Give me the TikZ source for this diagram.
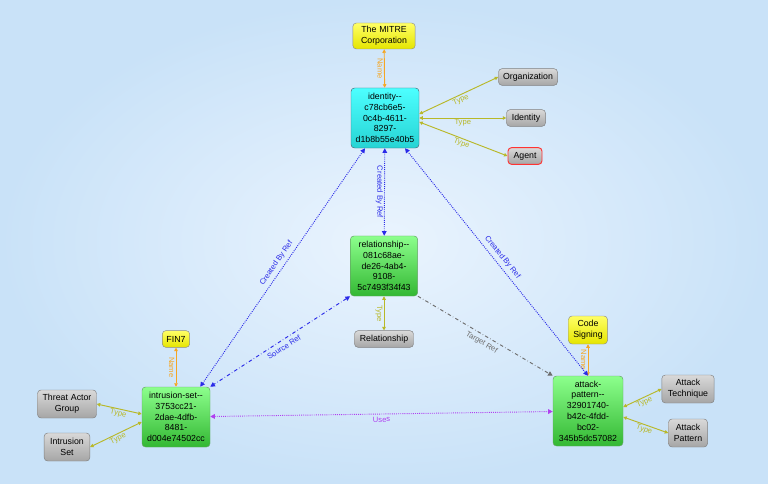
\documentclass[tikz,border=0pt]{standalone}
\usepackage{fontspec}
\setmainfont{Liberation Sans}
\usetikzlibrary{arrows.meta,positioning,shapes.geometric}
\definecolor{bgin}{HTML}{EAF4FE}
\definecolor{bgout}{HTML}{C9E2F8}
\definecolor{typecol}{HTML}{B8B828}
\definecolor{namecol}{HTML}{F5A623}
\definecolor{refcol}{HTML}{2A2AE8}
\definecolor{usecol}{HTML}{B040F0}
\definecolor{tgtcol}{HTML}{6E6E6E}
\tikzset{
  obj/.style={draw=black!45,rounded corners=3pt,align=center,inner sep=1pt,font=\fontsize{7.5}{9.2}\selectfont,text width=#1},
  sdo/.style={obj=1.95cm,minimum width=2.04cm,minimum height=1.8cm,top color=green!45!white,bottom color=green!65!black!80,draw=green!40!black!60},
  ident/.style={obj=1.95cm,minimum width=2.04cm,minimum height=1.8cm,top color=cyan!70,bottom color=cyan!80!black!85,draw=cyan!40!black},
  kind/.style={obj=1.6cm,minimum height=0.5cm,top color=black!15,bottom color=black!35,draw=black!50},
  val/.style={obj=1.6cm,minimum height=0.5cm,top color=yellow!60,bottom color=yellow!90!black,draw=black!45},
  typeedge/.style={draw=typecol,thick,{Triangle[length=3pt,width=3pt]}-{Triangle[length=3pt,width=3pt]}},
  nameedge/.style={draw=namecol,thick,{Triangle[length=3pt,width=3pt]}-{Triangle[length=3pt,width=3pt]}},
  lbl/.style={font=\fontsize{6.5}{7}\selectfont,sloped,inner sep=1pt},
  vlbl/.style={font=\fontsize{6.5}{7}\selectfont,rotate=-90,anchor=north,inner sep=1pt},
}
\begin{document}
\begin{tikzpicture}[x=0.03cm,y=-0.03cm]

\shade[inner color=bgin,outer color=bgout] (0,0) rectangle (768,483);
\useasboundingbox (0,0) rectangle (768,483);

% objects
\node (identity) [ident] at (385,118) {identity-{}-\\c78cb6e5-\\0c4b-4611-\\8297-\\d1b8b55e40b5};
\node (rel) [sdo,minimum width=1.98cm] at (384,266) {relationship-{}-\\081c68ae-\\de26-4ab4-\\9108-\\5c7493f34f43};
\node (intrusion) [sdo] at (176,417) {intrusion-set-{}-\\3753cc21-\\2dae-4dfb-\\8481-\\d004e74502cc};
\node (attack) [sdo,minimum width=2.1cm,minimum height=2.1cm] at (588,411) {attack-\\pattern-{}-\\32901740-\\b42c-4fdd-\\bc02-\\345b5dc57082};

% values and types
\node (mitre) [val,text width=1.8cm,minimum width=1.86cm,minimum height=0.78cm] at (384,36) {The MITRE\\Corporation};
\node (org) [kind,text width=1.7cm,minimum width=1.74cm] at (528,77) {Organization};
\node (identkind) [kind,text width=1.1cm,minimum width=1.14cm] at (526,118) {Identity};
\node (agent) [kind,text width=0.95cm,minimum width=0.96cm,draw=red!80,thick] at (525,156) {Agent};
\node (relkind) [kind,text width=1.7cm,minimum width=1.74cm] at (384,339) {Relationship};
\node (fin) [val,text width=0.75cm,minimum width=0.78cm] at (176,339) {FIN7};
\node (actor) [kind,text width=1.7cm,minimum width=1.74cm,minimum height=0.84cm] at (67,404) {Threat Actor\\Group};
\node (iset) [kind,text width=1.3cm,minimum width=1.32cm,minimum height=0.84cm] at (67,447) {Intrusion\\Set};
\node (codesign) [val,text width=1.1cm,minimum width=1.14cm,minimum height=0.84cm] at (588,330) {Code\\Signing};
\node (technique) [kind,text width=1.5cm,minimum width=1.5cm,minimum height=0.84cm] at (688,389) {Attack\\Technique};
\node (apkind) [kind,text width=1.1cm,minimum width=1.14cm,minimum height=0.84cm] at (688,433) {Attack\\Pattern};

% name links
\draw[nameedge] (identity) -- node[vlbl,text=namecol] {Name} (mitre);
\draw[nameedge] (intrusion) -- node[vlbl,text=namecol] {Name} (fin);
\draw[nameedge] (attack) -- node[vlbl,text=namecol] {Name} (codesign);

% type links
\draw[typeedge] (identity.east) ++(0,-4) -- node[lbl,text=typecol,below] {Type} (org.west);
\draw[typeedge] (identity.east) -- node[lbl,text=typecol,below] {Type} (identkind);
\draw[typeedge] (identity.east) ++(0,4) -- node[lbl,text=typecol,below] {Type} (agent.west);
\draw[typeedge] (rel) -- node[vlbl,text=typecol] {Type} (relkind);
\draw[typeedge] (intrusion.west) ++(0,-3) -- node[lbl,text=typecol,below] {Type} (actor.east);
\draw[typeedge] (intrusion.west) ++(0,5) -- node[lbl,text=typecol,below] {Type} (iset.east);
\draw[typeedge] (attack.east) ++(0,-4) -- node[lbl,text=typecol,below] {Type} (technique.west);
\draw[typeedge] (attack.east) ++(0,6) -- node[lbl,text=typecol,below] {Type} (apkind.west);

% references
\draw[refcol,densely dotted,thick,{Triangle[length=4pt,width=4pt]}-{Triangle[length=4pt,width=4pt]}] (intrusion.north east) ++(-10,0) -- node[lbl,above=2pt] {Created By Ref} ([xshift=-0.6cm]identity.south);
\draw[refcol,densely dotted,thick,{Triangle[length=4pt,width=4pt]}-{Triangle[length=4pt,width=4pt]}] (rel) -- node[vlbl,text=refcol] {Created By Ref} (identity);
\draw[refcol,densely dotted,thick,{Triangle[length=4pt,width=4pt]}-{Triangle[length=4pt,width=4pt]}] (attack.north) -- node[lbl,above=2pt] {Created By Ref} ([xshift=0.6cm]identity.south);
\draw[refcol,dash dot,thick,{Triangle[length=4pt,width=4pt]}-{Triangle[length=4pt,width=4pt]}] (rel.south west) -- node[lbl,below=2pt] {Source Ref} (intrusion.north east);
\draw[tgtcol,dash dot,thick,-{Triangle[length=4pt,width=4pt]}] (rel.south east) -- node[lbl,below=2pt] {Target Ref} (attack.north west);
\draw[usecol,densely dotted,thick,{Triangle[length=4pt,width=4pt]}-{Triangle[length=4pt,width=4pt]}] (intrusion) -- node[lbl,below=1pt] {Uses} (attack);

\end{tikzpicture}
\end{document}
